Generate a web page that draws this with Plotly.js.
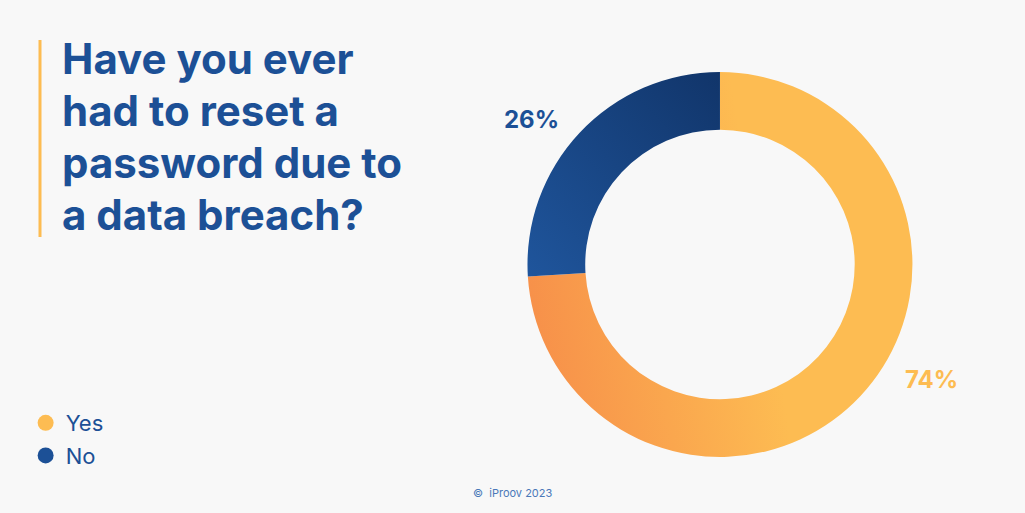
<!DOCTYPE html>
<html>
<head>
<meta charset="utf-8">
<script src="https://cdn.plot.ly/plotly-3.0.1.min.js"></script>
<style>
  html, body { margin: 0; padding: 0; background: #f8f8f8; }
  #chart { width: 1025px; height: 513px; }
</style>
</head>
<body>
<div id="chart"></div>
<script>
// ---- data ----
const categories = ['Yes', 'No'];
const values = [74, 26];
const valueLabels = ['74%', '26%'];
const titleLines = ['Have you ever', 'had to reset a', 'password due to', 'a data breach?'];
const footerText = '©  iProov 2023';

// ---- styles ----
const sliceColors = ['#FDBC52', '#1C5096'];
const textBlue = '#1C5096';
const bg = '#f8f8f8';

const pie = {
  type: 'pie',
  labels: categories,
  values: values,
  sort: false,
  direction: 'clockwise',
  rotation: 0,
  hole: 0.70,
  textinfo: 'none',
  hoverinfo: 'none',
  showlegend: false,
  marker: { colors: sliceColors, line: { width: 0 } },
  domain: { x: [0.5146, 0.8902], y: [0.1092, 0.8596] }
};

const legendTraces = categories.map((c, i) => ({
  type: 'scatter',
  mode: 'markers',
  x: [null], y: [null],
  name: c,
  legendgroup: 'g' + i,
  marker: { color: sliceColors[i], size: 16, symbol: 'circle' },
  hoverinfo: 'skip',
  showlegend: true
}));

const labelPos = [[0.909, 0.261], [0.519, 0.768]];
const annotations = valueLabels.map((t, i) => ({
  xref: 'paper', yref: 'paper',
  x: labelPos[i][0], y: labelPos[i][1],
  xanchor: 'center', yanchor: 'middle',
  text: '<b>' + t + '</b>',
  showarrow: false,
  font: { family: 'Inter', size: 24, color: sliceColors[i] }
}));

const titleMid = [58, 111, 163, 215];
titleLines.forEach((line, i) => {
  annotations.push({
    xref: 'paper', yref: 'paper',
    x: 60 / 1025, y: 1 - titleMid[i] / 513,
    xanchor: 'left', yanchor: 'middle', align: 'left',
    text: '<b>' + line + '</b>',
    showarrow: false,
    font: { family: 'Inter', size: 42, color: textBlue }
  });
});

annotations.push({
  xref: 'paper', yref: 'paper',
  x: 512 / 1025, y: 1 - 493 / 513,
  xanchor: 'center', yanchor: 'middle',
  text: footerText,
  showarrow: false,
  font: { family: 'Inter', size: 11, color: '#4A78B8' }
});

const layout = {
  width: 1025, height: 513,
  paper_bgcolor: bg, plot_bgcolor: bg,
  margin: { l: 0, r: 0, t: 0, b: 0 },
  xaxis: { visible: false, domain: [0, 0.01] },
  yaxis: { visible: false, domain: [0, 0.01] },
  showlegend: true,
  legend: {
    x: 0.025, y: 1 - 402 / 513, xanchor: 'left', yanchor: 'top',
    bgcolor: 'rgba(0,0,0,0)',
    font: { family: 'Inter', size: 22, color: textBlue },
    tracegroupgap: 1,
    itemclick: false, itemdoubleclick: false
  },
  shapes: [{
    type: 'line', xref: 'paper', yref: 'paper',
    x0: 40 / 1025, x1: 40 / 1025, y0: 1 - 40 / 513, y1: 1 - 237 / 513,
    line: { color: '#FDBC52', width: 3 }
  }],
  annotations: annotations
};

Plotly.newPlot('chart', [pie, ...legendTraces], layout, { staticPlot: true, displayModeBar: false }).then(gd => {
  const svg = gd.querySelector('.main-svg');
  const ns = 'http://www.w3.org/2000/svg';
  let defs = svg.querySelector('defs');
  if (!defs) { defs = document.createElementNS(ns, 'defs'); svg.insertBefore(defs, svg.firstChild); }
  function grad(id, x1, y1, x2, y2, stops) {
    const g = document.createElementNS(ns, 'linearGradient');
    g.setAttribute('id', id);
    g.setAttribute('x1', x1); g.setAttribute('y1', y1);
    g.setAttribute('x2', x2); g.setAttribute('y2', y2);
    stops.forEach(s => {
      const st = document.createElementNS(ns, 'stop');
      st.setAttribute('offset', s[0]);
      st.setAttribute('stop-color', s[1]);
      g.appendChild(st);
    });
    defs.appendChild(g);
  }
  grad('gYes', '0', '0.55', '0.6', '0.45', [[0, '#F7914A'], [1, '#FDBC52']]);
  grad('gNo', '0', '1', '1', '0', [[0, '#1F559C'], [1, '#11356A']]);
  const paths = gd.querySelectorAll('.slice path.surface');
  const ids = ['gYes', 'gNo'];
  paths.forEach((p, i) => { if (ids[i]) p.style.fill = 'url(#' + ids[i] + ')'; });
});
</script>
</body>
</html>
